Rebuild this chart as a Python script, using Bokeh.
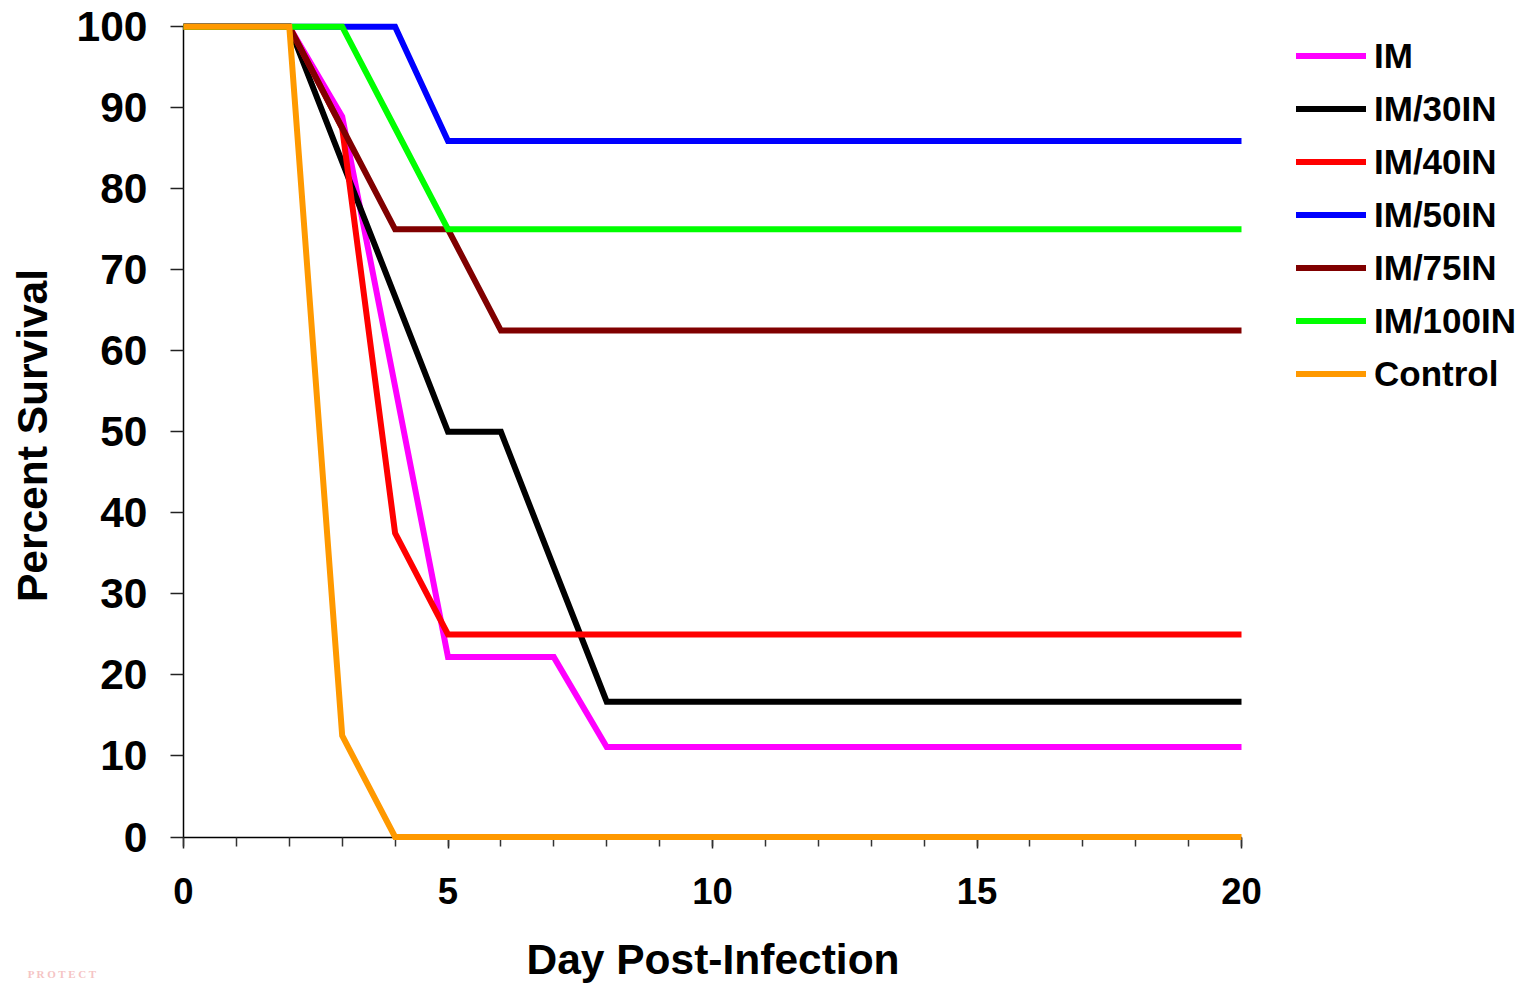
from bokeh.plotting import figure
from bokeh.models import Legend, LegendItem, Range1d, Label, FixedTicker, LinearAxis, CustomJSTickFormatter
from bokeh.embed import file_html
from bokeh.resources import INLINE

days = [0, 2, 3, 4, 5, 6, 7, 8, 20]
series_names = ["IM", "IM/30IN", "IM/40IN", "IM/50IN", "IM/75IN", "IM/100IN", "Control"]
im = [100, 100, 88.9, 55.6, 22.2, 22.2, 22.2, 11.1, 11.1]
im30 = [100, 100, 83.3, 66.7, 50, 50, 33.3, 16.7, 16.7]
im40 = [100, 100, 87.5, 37.5, 25, 25, 25, 25, 25]
im50 = [100, 100, 100, 100, 85.9, 85.9, 85.9, 85.9, 85.9]
im75 = [100, 100, 87.5, 75, 75, 62.5, 62.5, 62.5, 62.5]
im100 = [100, 100, 100, 87.5, 75, 75, 75, 75, 75]
control = [100, 100, 12.5, 0, 0, 0, 0, 0, 0]
series_values = [im, im30, im40, im50, im75, im100, control]
colors = ["#FF00FF", "#000000", "#FF0000", "#0000FF", "#800000", "#00FF00", "#FF9900"]
x_ticks = [0, 5, 10, 15, 20]
x_minor = list(range(0, 21))
y_ticks = list(range(0, 101, 10))

FONT = "Liberation Sans"
W, H = 1525, 984
X0, X20 = 183.0, 1241.0
Y100, Y0 = 26.2, 836.5
PX_X = (X20 - X0) / 20
PX_Y = (Y0 - Y100) / 100
F_L, F_R, F_T, F_B = 167, 1520, 20, 850

def to_x(px):
    return (px - X0) / PX_X

def to_y(py):
    return (Y0 - py) / PX_Y

p = figure(width=W, height=H, output_backend="svg", toolbar_location=None,
           x_range=Range1d(to_x(F_L), to_x(F_R)),
           y_range=Range1d(to_y(F_B), to_y(F_T)),
           min_border_left=F_L, min_border_top=F_T,
           min_border_right=W - F_R, min_border_bottom=H - F_B)
p.outline_line_color = None
p.grid.visible = False

for ax, ticks in ((p.xaxis[0], x_ticks), (p.yaxis[0], y_ticks)):
    ax.ticker = FixedTicker(ticks=ticks, minor_ticks=[])
    ax.axis_line_color = None
    ax.major_tick_line_color = None
    ax.minor_tick_line_color = None
    ax.major_label_text_font = FONT
    ax.major_label_text_font_style = "bold"
    ax.major_label_text_color = "black"
    ax.axis_label_text_font = FONT
    ax.axis_label_text_font_style = "bold"
    ax.axis_label_text_color = "black"
    ax.axis_label_text_font_size = "42.5px"
p.xaxis.major_label_text_font_size = "36.5px"
p.yaxis.major_label_text_font_size = "42.5px"
p.xaxis.major_label_standoff = 21
p.yaxis.major_label_standoff = 14
p.yaxis.axis_label = "Percent Survival"
p.yaxis.axis_label_standoff = 18

xl = LinearAxis(fixed_location=0, bounds=(0, 20), ticker=FixedTicker(ticks=x_ticks, minor_ticks=x_minor))
yl = LinearAxis(fixed_location=0, bounds=(0, 100), ticker=FixedTicker(ticks=y_ticks, minor_ticks=[]))
for ax in (xl, yl):
    ax.level = "underlay"
    ax.formatter = CustomJSTickFormatter(code="return ''")
    ax.axis_line_color = "black"
    ax.axis_line_width = 1.5
    ax.major_tick_line_color = "#222222"
    ax.major_tick_line_width = 1.5
    ax.minor_tick_line_color = "#333333"
    ax.minor_tick_line_width = 1.5
    ax.major_tick_out = 0
    ax.minor_tick_out = 0
    ax.minor_tick_in = 0
    ax.major_label_text_font_size = "1px"
    ax.major_label_standoff = 0
xl.major_tick_in = 11
xl.minor_tick_in = 9
yl.major_tick_in = 13
p.add_layout(xl, "above")
p.add_layout(yl, "right")

for vals, c in zip(series_values, colors):
    p.line(days, vals, line_color=c, line_width=6, line_join="miter", line_cap="butt")

nan = float("nan")
proxies = [p.line([nan, nan], [nan, nan], line_color=c, line_width=6, line_cap="round") for c in colors]
legend = Legend(items=[LegendItem(label=n, renderers=[r]) for n, r in zip(series_names, proxies)],
                location=(1129, 450), orientation="vertical",
                glyph_width=70, glyph_height=53, label_height=53, label_width=100,
                spacing=0, padding=0, margin=0, label_standoff=8,
                border_line_color=None, background_fill_alpha=0,
                label_text_font=FONT, label_text_font_style="bold",
                label_text_font_size="35px", label_text_color="black",
                label_text_baseline="middle")
p.add_layout(legend, "center")

p.add_layout(Label(x=to_x(712.5), y=to_y(959), x_units="data", y_units="data",
                   text="Day Post-Infection", text_font=FONT, text_font_size="42.5px",
                   text_font_style="bold", text_color="black",
                   text_align="center", text_baseline="alphabetic"), "below")
p.add_layout(Label(x=to_x(62), y=to_y(973), x_units="data", y_units="data",
                   text="P R O T E C T", text_font="Liberation Serif", text_font_size="11px",
                   text_font_style="bold", text_color="#f5c4c4",
                   text_align="center", text_baseline="alphabetic"), "below")

open("out.html", "w").write(file_html(p, INLINE))
